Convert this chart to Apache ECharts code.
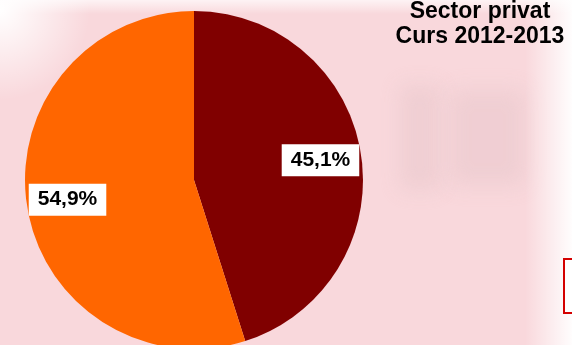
<!DOCTYPE html>
<html>
<head>
<meta charset="utf-8">
<script src="https://cdn.jsdelivr.net/npm/echarts@6/dist/echarts.min.js"></script>
<style>
html,body{margin:0;padding:0;background:#fff;}
#c{width:572px;height:345px;}
</style>
</head>
<body>
<div id="c"></div>
<script>
const categories = ['Homes', 'Dones'];
const values = [45.1, 54.9];
const sliceColors = ['#800000', '#FF6600'];
const titleLines = ['Sector privat', 'Curs 2012-2013'];

const FONT = '"Liberation Sans", Arial, sans-serif';
const pieData = categories.map((name, i) => ({ name: name, value: values[i] }));
const fmt = v => v.toFixed(1).replace('.', ',') + '%';

function blurRect(x, y, w, h, color, blur) {
  return { type: 'rect', silent: true, z: -10, shape: { x: x - 2000, y: y, width: w, height: h },
    style: { fill: '#000', shadowBlur: blur, shadowColor: color, shadowOffsetX: 2000 } };
}

const chart = echarts.init(document.getElementById('c'), null, { renderer: 'canvas' });
chart.setOption({
  animation: false,
  backgroundColor: '#f9d8dc',
  color: sliceColors,
  graphic: [
    blurRect(400, 85, 40, 105, 'rgba(228,195,200,0.45)', 20),
    blurRect(450, 90, 75, 95, 'rgba(228,195,200,0.45)', 20),
    { type: 'rect', silent: true, z: -9, shape: { x: 525, y: 0, width: 47, height: 345 },
      style: { fill: new echarts.graphic.LinearGradient(0, 0, 1, 0, [
        { offset: 0, color: 'rgba(255,255,255,0)' },
        { offset: 1, color: 'rgba(255,255,255,0.95)' }]) } },
    { type: 'rect', silent: true, z: -9, shape: { x: 0, y: 0, width: 572, height: 14 },
      style: { fill: new echarts.graphic.LinearGradient(0, 0, 0, 1, [
        { offset: 0, color: 'rgba(255,255,255,0.7)' },
        { offset: 1, color: 'rgba(255,255,255,0)' }]) } },
    { type: 'circle', silent: true, z: -9, shape: { cx: 0, cy: 10, r: 90 },
      style: { fill: new echarts.graphic.RadialGradient(0.5, 0.5, 0.5, [
        { offset: 0, color: 'rgba(255,255,255,1)' },
        { offset: 0.4, color: 'rgba(255,255,255,0.6)' },
        { offset: 1, color: 'rgba(255,255,255,0)' }]) } }
  ],
  title: {
    text: titleLines.join('\n'),
    left: 480,
    top: -1,
    textAlign: 'center',
    padding: 0,
    textStyle: { fontFamily: FONT, fontSize: 23, fontWeight: 'bold', color: '#000', lineHeight: 25 }
  },
  legend: {
    orient: 'vertical',
    left: 564,
    top: 259,
    padding: [8, 10],
    itemHeight: 14,
    itemGap: 10,
    borderColor: '#d40000',
    borderWidth: 2,
    backgroundColor: '#ffffff',
    data: categories,
    textStyle: { fontFamily: FONT, fontSize: 14, color: '#000' }
  },
  series: [
    {
      type: 'pie',
      center: [194, 180],
      radius: 169,
      startAngle: 90,
      clockwise: true,
      silent: true,
      label: { show: false },
      labelLine: { show: false },
      itemStyle: { borderWidth: 0 },
      data: pieData
    },
    {
      type: 'pie',
      center: [194, 180],
      radius: [0, 250],
      startAngle: 90,
      clockwise: true,
      silent: true,
      legendHoverLink: false,
      itemStyle: { color: 'rgba(0,0,0,0)', borderWidth: 0 },
      labelLine: { show: false },
      label: {
        show: true,
        position: 'inside',
        formatter: p => fmt(p.value),
        fontFamily: FONT,
        fontSize: 21,
        fontWeight: 'bold',
        color: '#000',
        backgroundColor: '#ffffff',
        padding: [6, 9, 5, 9]
      },
      data: pieData
    }
  ]
});
</script>
</body>
</html>
